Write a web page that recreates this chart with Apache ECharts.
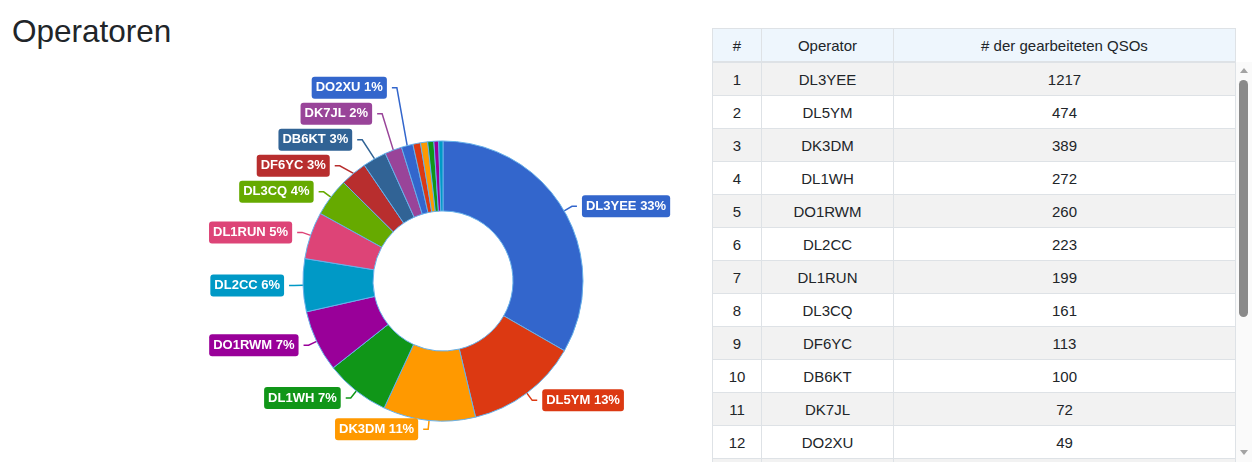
<!DOCTYPE html>
<html>
<head>
<meta charset="utf-8">
<script src="https://cdn.jsdelivr.net/npm/echarts@6/dist/echarts.min.js"></script>
<style>
    body { margin: 0; font-family: Arial, "Liberation Sans", sans-serif; color: #212529; background: #fff; }
    h2 { position: absolute; left: 12px; top: 12px; margin: 0; font-size: 31.5px; font-weight: normal; line-height: 38px; }
    #chart { position: absolute; left: 0; top: 0; width: 700px; height: 469px; }
    #tablebox { position: absolute; left: 712px; top: 28px; width: 540px; }
    table { border-collapse: collapse; width: 524px; table-layout: fixed; font-size: 15px; }
    td, th { border: 1px solid #dee2e6; text-align: center; height: 32px; padding: 0; font-weight: normal; }
    thead th { background: #eef6fd; }
    tbody tr:nth-child(odd) td { background: #f2f2f2; }
    #scroller { height: 400px; overflow-y: scroll; width: 524px; }
    #scroller::-webkit-scrollbar { width: 0; }
    .sb { position: absolute; }
    #sbtrack { left: 524px; top: 34px; width: 16px; height: 400px; background: #fafafa; }
    #sbthumb { left: 527px; top: 52px; width: 9px; height: 237px; background: #8a8a8a; border-radius: 5px; }
    .arrow { width: 0; height: 0; border-left: 4px solid transparent; border-right: 4px solid transparent; }
    #sbup { left: 528px; top: 40px; border-bottom: 5px solid #a3a3a3; }
    #sbdown { left: 528px; top: 422px; border-top: 5px solid #a3a3a3; }
</style>
</head>
<body>
<h2>Operatoren</h2>
<div id="chart"></div>
<div id="tablebox">
    <table>
        <colgroup><col style="width:49px"><col style="width:132px"><col></colgroup>
        <thead><tr><th>#</th><th>Operator</th><th># der gearbeiteten QSOs</th></tr></thead>
    </table>
    <div id="scroller">
        <table id="body">
            <colgroup><col style="width:49px"><col style="width:132px"><col></colgroup>
            <tbody></tbody>
        </table>
    </div>
    <div class="sb" id="sbtrack"></div>
    <div class="sb" id="sbthumb"></div>
    <div class="sb arrow" id="sbup"></div>
    <div class="sb arrow" id="sbdown"></div>
</div>
<script>
    (function(){
        var operators = ['DL3YEE','DL5YM','DK3DM','DL1WH','DO1RWM','DL2CC','DL1RUN','DL3CQ','DF6YC','DB6KT','DK7JL','DO2XU','DL8MB','DO7KT','DK2FR','DL4SW','DO3JH'];
        var qsos = [1217, 474, 389, 272, 260, 223, 199, 161, 113, 100, 72, 49, 32, 30, 26, 20, 18];
        var colors = ['#3366cc','#dc3912','#ff9900','#109618','#990099','#0099c6','#dd4477','#66aa00','#b82e2e','#316395','#994499'];

        // table
        var tbody = document.querySelector('#body tbody');
        for (var i = 0; i < operators.length; i++) {
            var tr = document.createElement('tr');
            tr.innerHTML = '<td>' + (i + 1) + '</td><td>' + operators[i] + '</td><td>' + qsos[i] + '</td>';
            tbody.appendChild(tr);
        }

        var total = 0;
        for (var k = 0; k < qsos.length; k++) total += qsos[k];

        var data = [];
        for (var j = 0; j < operators.length; j++) {
            var c = colors[j % colors.length];
            var show = qsos[j] / total >= 0.01;
            data.push({
                name: operators[j],
                value: qsos[j],
                itemStyle: { color: c },
                label: { show: show, backgroundColor: c },
                labelLine: { show: show, lineStyle: { color: c } }
            });
        }

        // labels on the left side get stacked upwards when they would overlap
        var prevLeft = null;
        var labelGap = 4;
        function stackLabels(params) {
            if (params.dataIndex === 0) prevLeft = null;
            if (params.align !== 'right') return {};
            var r = params.labelRect;
            var cy = r.y + r.height / 2;
            var target = cy;
            if (prevLeft !== null) target = Math.min(cy, prevLeft - r.height - labelGap);
            prevLeft = target;
            var dy = target - cy;
            if (!dy) return {};
            var pts = params.labelLinePoints;
            return {
                dx: -8,
                dy: dy,
                labelLinePoints: [pts[0], [pts[1][0] - 8, target], [pts[2][0] - 8, target]]
            };
        }

        var myChart = echarts.init(document.getElementById('chart'));
        var option = {
            animation: false,
            series: [
                {
                    type: 'pie',
                    center: [443, 281],
                    radius: [70, 140],
                    startAngle: 90,
                    clockwise: true,
                    avoidLabelOverlap: false,
                    itemStyle: {
                        borderColor: '#66b0ea',
                        borderWidth: 1
                    },
                    label: {
                        formatter: function (p) {
                            return p.name + ' ' + Math.round(p.percent) + '%';
                        },
                        color: '#fff',
                        fontFamily: 'Arial',
                        fontWeight: 'bold',
                        fontSize: 13,
                        lineHeight: 14,
                        padding: [4, 4, 4, 4],
                        borderRadius: 3
                    },
                    labelLine: {
                        length: 9,
                        length2: 5,
                        lineStyle: { width: 1.5 }
                    },
                    labelLayout: stackLabels,
                    emphasis: { disabled: true },
                    data: data
                }
            ]
        };
        myChart.setOption(option);
    }())
</script>
</body>
</html>
